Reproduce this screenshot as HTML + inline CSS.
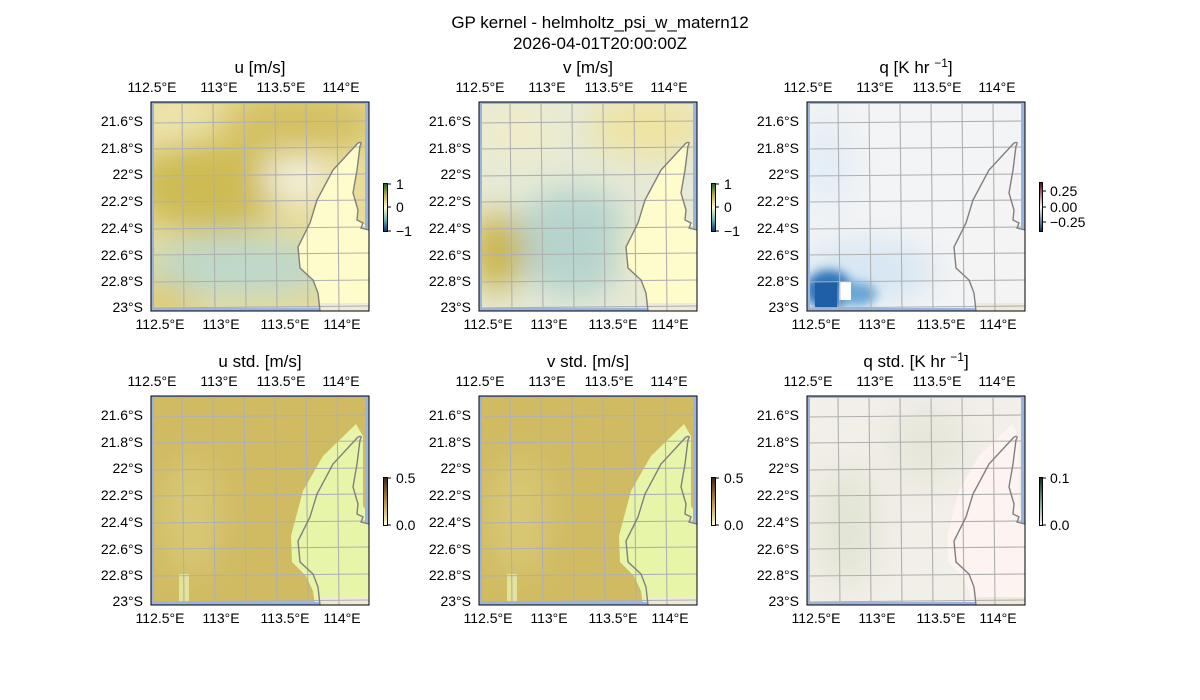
<!DOCTYPE html>
<html><head><meta charset="utf-8"><style>
html,body{margin:0;padding:0;background:#fff;}
svg{display:block;font-family:"Liberation Sans","DejaVu Sans",sans-serif;}
.t{font-size:14px;fill:#000;}
.tt{font-size:17px;fill:#000;text-anchor:middle;}
.c{text-anchor:middle;}
.r{text-anchor:end;}
.g line{stroke:#b0b0b0;stroke-width:1.1;}
</style></head><body>
<svg width="1200" height="700" viewBox="0 0 1200 700">
<defs>
<filter id="b" x="-50%" y="-50%" width="200%" height="200%"><feGaussianBlur stdDeviation="16"/></filter>
<filter id="b2" x="-50%" y="-50%" width="200%" height="200%"><feGaussianBlur stdDeviation="5"/></filter>
<clipPath id="cp"><rect x="0" y="0" width="218" height="209"/></clipPath>
<linearGradient id="cu" x1="0" y1="0" x2="0" y2="1"><stop offset="0" stop-color="#1b5e20"/><stop offset="0.25" stop-color="#c2b444"/><stop offset="0.5" stop-color="#fffccc"/><stop offset="0.75" stop-color="#6fb6b0"/><stop offset="1" stop-color="#08306b"/></linearGradient>
<linearGradient id="cq" x1="0" y1="0" x2="0" y2="1"><stop offset="0" stop-color="#67001f"/><stop offset="0.5" stop-color="#f7f7f7"/><stop offset="1" stop-color="#053061"/></linearGradient>
<linearGradient id="cs" x1="0" y1="0" x2="0" y2="1"><stop offset="0" stop-color="#3b2410"/><stop offset="0.5" stop-color="#b8903a"/><stop offset="1" stop-color="#ffffcc"/></linearGradient>
<linearGradient id="cqs" x1="0" y1="0" x2="0" y2="1"><stop offset="0" stop-color="#0b2a2a"/><stop offset="0.5" stop-color="#7aa090"/><stop offset="1" stop-color="#fff5f0"/></linearGradient>
<g id="grid" class="g">
<line x1="31" y1="0" x2="33" y2="209"/><line x1="62" y1="0" x2="64" y2="209"/><line x1="93" y1="0" x2="95" y2="209"/><line x1="124" y1="0" x2="126" y2="209"/><line x1="155" y1="0" x2="157" y2="209"/><line x1="186" y1="0" x2="188" y2="209"/>
<line x1="0" y1="21" x2="218" y2="19"/><line x1="0" y1="47" x2="218" y2="45"/><line x1="0" y1="74" x2="218" y2="72"/><line x1="0" y1="100" x2="218" y2="98"/><line x1="0" y1="127" x2="218" y2="125"/><line x1="0" y1="153" x2="218" y2="151"/><line x1="0" y1="180" x2="218" y2="178"/><line x1="0" y1="206" x2="218" y2="204"/>
</g>
<path id="land" d="M207,41 L182,68 L166,98 L159,121 L147,145 L149,166 L162,178 L167,191 L169,209 L218,209 L218,128 L212,121 L206,118 L207,108 L202,91 L206,68 L209,41 Z"/>
<path id="land2" d="M205,28 L172,60 L152,95 L145,121 L140,140 L141,166 L155,180 L162,195 L164,209 L218,209 L218,118 L212,110 L212,40 Z"/>
<path id="coast" d="M207,41 L182,68 L166,98 L159,121 L147,145 L149,166 L162,178 L167,191 L169,209 M207,41 Q212,39 209,44 L206,68 L202,91 L207,108 L206,118 L212,121 L210,126 L218,128" fill="none" stroke="#808080" stroke-width="1.4"/>
<g id="edge"><rect x="0" y="0" width="3" height="209" fill="#9ab4e0"/><rect x="0" y="0" width="218" height="2" fill="#9ab4e0"/><rect x="214" y="0" width="4" height="128" fill="#9ab4e0"/><rect x="0" y="206" width="169" height="3" fill="#9ab4e0"/><rect x="169" y="201" width="49" height="8" fill="#eeeadb"/></g>
</defs>

<text class="tt" x="600" y="28">GP kernel - helmholtz_psi_w_matern12</text>
<text class="tt" x="600" y="49">2026-04-01T20:00:00Z</text>

<g transform="translate(151,102)">
<g clip-path="url(#cp)">
<rect width="218" height="209" fill="#e8dc98"/>
<g filter="url(#b)">
<ellipse cx="150" cy="20" rx="80" ry="30" fill="#d3c060"/>
<ellipse cx="60" cy="85" rx="80" ry="45" fill="#cdbb52"/>
<ellipse cx="145" cy="78" rx="35" ry="22" fill="#f3f1de"/>
<ellipse cx="90" cy="165" rx="95" ry="30" fill="#bcd8cc"/>
<ellipse cx="15" cy="200" rx="30" ry="20" fill="#dcc96a"/>
<ellipse cx="20" cy="15" rx="35" ry="20" fill="#efe6b0"/>
</g>
<use href="#land" fill="#fffccc"/>
<use href="#edge"/>
<use href="#grid"/>
<use href="#coast"/>
</g>
<rect width="218" height="209" fill="none" stroke="#000" stroke-width="1"/>
</g>

<g transform="translate(479,102)">
<g clip-path="url(#cp)">
<rect width="218" height="209" fill="#e6ead6"/>
<g filter="url(#b)">
<ellipse cx="170" cy="25" rx="60" ry="30" fill="#efe3a0"/>
<ellipse cx="40" cy="30" rx="40" ry="25" fill="#f0ecc8"/>
<ellipse cx="95" cy="140" rx="60" ry="55" fill="#b6d4cd"/>
<ellipse cx="18" cy="150" rx="28" ry="40" fill="#cbb54c"/>
<ellipse cx="180" cy="150" rx="40" ry="40" fill="#f2edc8"/>
</g>
<use href="#land" fill="#fffccc"/>
<use href="#edge"/>
<use href="#grid"/>
<use href="#coast"/>
</g>
<rect width="218" height="209" fill="none" stroke="#000" stroke-width="1"/>
</g>

<g transform="translate(807,102)">
<g clip-path="url(#cp)">
<rect width="218" height="209" fill="#f3f4f5"/>
<g filter="url(#b)">
<ellipse cx="20" cy="60" rx="30" ry="50" fill="#e4eef6"/>
<ellipse cx="60" cy="170" rx="70" ry="30" fill="#d6e6f3"/>
</g>
<g filter="url(#b2)">
<ellipse cx="22" cy="188" rx="24" ry="20" fill="#2f73b8"/>
<ellipse cx="50" cy="192" rx="20" ry="12" fill="#6aa8d5"/>
</g>
<rect x="8" y="180" width="22" height="25" fill="#1f5fa8"/>
<rect x="32" y="180" width="12" height="18" fill="#ffffff"/>
<use href="#land" fill="#f4f4f4"/>
<use href="#edge"/>
<use href="#grid"/>
<use href="#coast"/>
</g>
<rect width="218" height="209" fill="none" stroke="#000" stroke-width="1"/>
</g>

<g transform="translate(151,396)">
<g clip-path="url(#cp)">
<rect width="218" height="209" fill="#d0bb62"/>
<g filter="url(#b)"><ellipse cx="40" cy="120" rx="30" ry="60" fill="#d8c875"/></g>
<rect x="28" y="178" width="10" height="28" fill="#e3e39a"/>
<use href="#land2" fill="#e6f5a8"/>
<use href="#edge"/>
<use href="#grid"/>
<use href="#coast"/>
</g>
<rect width="218" height="209" fill="none" stroke="#000" stroke-width="1"/>
</g>

<g transform="translate(479,396)">
<g clip-path="url(#cp)">
<rect width="218" height="209" fill="#d0bb62"/>
<g filter="url(#b)"><ellipse cx="40" cy="120" rx="30" ry="60" fill="#d8c875"/></g>
<rect x="28" y="178" width="10" height="28" fill="#e3e39a"/>
<use href="#land2" fill="#e6f5a8"/>
<use href="#edge"/>
<use href="#grid"/>
<use href="#coast"/>
</g>
<rect width="218" height="209" fill="none" stroke="#000" stroke-width="1"/>
</g>

<g transform="translate(807,396)">
<g clip-path="url(#cp)">
<rect width="218" height="209" fill="#f2eee8"/>
<g filter="url(#b)">
<ellipse cx="40" cy="130" rx="30" ry="60" fill="#e2e5d4"/>
<ellipse cx="120" cy="50" rx="40" ry="40" fill="#e6e7da"/>
</g>
<use href="#land2" fill="#fdf3f0"/>
<use href="#edge"/>
<use href="#grid"/>
<use href="#coast"/>
</g>
<rect width="218" height="209" fill="none" stroke="#000" stroke-width="1"/>
</g>

<text class="tt" x="260" y="73">u [m/s]</text>
<text class="tt" x="588" y="73">v [m/s]</text>
<text class="tt" x="916" y="73">q [K hr <tspan font-size="12" dy="-6">−1</tspan><tspan dy="6">]</tspan></text>
<text class="tt" x="260" y="367">u std. [m/s]</text>
<text class="tt" x="588" y="367">v std. [m/s]</text>
<text class="tt" x="916" y="367">q std. [K hr <tspan font-size="12" dy="-6">−1</tspan><tspan dy="6">]</tspan></text>

<g class="t">
<g class="c">
<text x="152" y="92">112.5°E</text><text x="219" y="92">113°E</text><text x="281" y="92">113.5°E</text><text x="341" y="92">114°E</text>
<text x="160" y="329">112.5°E</text><text x="221" y="329">113°E</text><text x="285" y="329">113.5°E</text><text x="342" y="329">114°E</text>
<text x="480" y="92">112.5°E</text><text x="547" y="92">113°E</text><text x="609" y="92">113.5°E</text><text x="669" y="92">114°E</text>
<text x="488" y="329">112.5°E</text><text x="549" y="329">113°E</text><text x="613" y="329">113.5°E</text><text x="670" y="329">114°E</text>
<text x="808" y="92">112.5°E</text><text x="875" y="92">113°E</text><text x="937" y="92">113.5°E</text><text x="997" y="92">114°E</text>
<text x="816" y="329">112.5°E</text><text x="877" y="329">113°E</text><text x="941" y="329">113.5°E</text><text x="998" y="329">114°E</text>
<text x="152" y="386">112.5°E</text><text x="219" y="386">113°E</text><text x="281" y="386">113.5°E</text><text x="341" y="386">114°E</text>
<text x="160" y="623">112.5°E</text><text x="221" y="623">113°E</text><text x="285" y="623">113.5°E</text><text x="342" y="623">114°E</text>
<text x="480" y="386">112.5°E</text><text x="547" y="386">113°E</text><text x="609" y="386">113.5°E</text><text x="669" y="386">114°E</text>
<text x="488" y="623">112.5°E</text><text x="549" y="623">113°E</text><text x="613" y="623">113.5°E</text><text x="670" y="623">114°E</text>
<text x="808" y="386">112.5°E</text><text x="875" y="386">113°E</text><text x="937" y="386">113.5°E</text><text x="997" y="386">114°E</text>
<text x="816" y="623">112.5°E</text><text x="877" y="623">113°E</text><text x="941" y="623">113.5°E</text><text x="998" y="623">114°E</text>
</g>
<g class="r">
<text x="143" y="126">21.6°S</text><text x="143" y="153">21.8°S</text><text x="143" y="179">22°S</text><text x="143" y="206">22.2°S</text><text x="143" y="233">22.4°S</text><text x="143" y="260">22.6°S</text><text x="143" y="286">22.8°S</text><text x="143" y="312">23°S</text>
<text x="471" y="126">21.6°S</text><text x="471" y="153">21.8°S</text><text x="471" y="179">22°S</text><text x="471" y="206">22.2°S</text><text x="471" y="233">22.4°S</text><text x="471" y="260">22.6°S</text><text x="471" y="286">22.8°S</text><text x="471" y="312">23°S</text>
<text x="799" y="126">21.6°S</text><text x="799" y="153">21.8°S</text><text x="799" y="179">22°S</text><text x="799" y="206">22.2°S</text><text x="799" y="233">22.4°S</text><text x="799" y="260">22.6°S</text><text x="799" y="286">22.8°S</text><text x="799" y="312">23°S</text>
<text x="143" y="420">21.6°S</text><text x="143" y="447">21.8°S</text><text x="143" y="473">22°S</text><text x="143" y="500">22.2°S</text><text x="143" y="527">22.4°S</text><text x="143" y="554">22.6°S</text><text x="143" y="580">22.8°S</text><text x="143" y="606">23°S</text>
<text x="471" y="420">21.6°S</text><text x="471" y="447">21.8°S</text><text x="471" y="473">22°S</text><text x="471" y="500">22.2°S</text><text x="471" y="527">22.4°S</text><text x="471" y="554">22.6°S</text><text x="471" y="580">22.8°S</text><text x="471" y="606">23°S</text>
<text x="799" y="420">21.6°S</text><text x="799" y="447">21.8°S</text><text x="799" y="473">22°S</text><text x="799" y="500">22.2°S</text><text x="799" y="527">22.4°S</text><text x="799" y="554">22.6°S</text><text x="799" y="580">22.8°S</text><text x="799" y="606">23°S</text>
</g>
</g>

<g stroke="#000" stroke-width="1">
<rect x="383.5" y="183.5" width="4" height="48" fill="url(#cu)"/>
<rect x="711.5" y="183.5" width="4" height="48" fill="url(#cu)"/>
<rect x="1039.5" y="182.5" width="3" height="49" fill="url(#cq)"/>
<rect x="383.5" y="477.5" width="4" height="48" fill="url(#cs)"/>
<rect x="711.5" y="477.5" width="4" height="48" fill="url(#cs)"/>
<rect x="1039.5" y="477.5" width="3" height="48" fill="url(#cqs)"/>
<line x1="387.5" y1="184" x2="391" y2="184"/><line x1="387.5" y1="207" x2="391" y2="207"/><line x1="387.5" y1="231" x2="391" y2="231"/>
<line x1="715.5" y1="184" x2="719" y2="184"/><line x1="715.5" y1="207" x2="719" y2="207"/><line x1="715.5" y1="231" x2="719" y2="231"/>
<line x1="1042.5" y1="191" x2="1046" y2="191"/><line x1="1042.5" y1="207" x2="1046" y2="207"/><line x1="1042.5" y1="222" x2="1046" y2="222"/>
<line x1="387.5" y1="478" x2="391" y2="478"/><line x1="387.5" y1="525" x2="391" y2="525"/>
<line x1="715.5" y1="478" x2="719" y2="478"/><line x1="715.5" y1="525" x2="719" y2="525"/>
<line x1="1042.5" y1="478" x2="1046" y2="478"/><line x1="1042.5" y1="525" x2="1046" y2="525"/>
</g>
<g class="t">
<text x="396" y="189">1</text><text x="396" y="212">0</text><text x="396" y="236">−1</text>
<text x="724" y="189">1</text><text x="724" y="212">0</text><text x="724" y="236">−1</text>
<text x="1050" y="196">0.25</text><text x="1050" y="212">0.00</text><text x="1050" y="227">−0.25</text>
<text x="396" y="483">0.5</text><text x="396" y="530">0.0</text>
<text x="724" y="483">0.5</text><text x="724" y="530">0.0</text>
<text x="1050" y="483">0.1</text><text x="1050" y="530">0.0</text>
</g>
</svg>
</body></html>
